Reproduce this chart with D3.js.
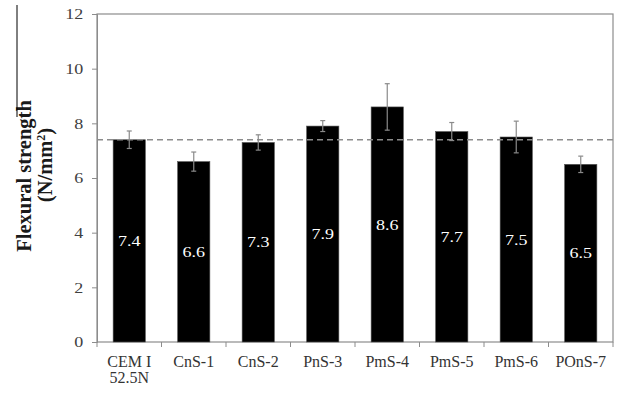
<!DOCTYPE html>
<html>
<head>
<meta charset="utf-8">
<script src="https://cdn.jsdelivr.net/npm/d3@7"></script>
<style>
  body { margin: 0; background: #fff; }
  svg { display: block; font-family: "Liberation Serif", "Times New Roman", serif; }
</style>
</head>
<body>
<svg id="chart"></svg>
<script>
const categories = ["CEM I|52.5N", "CnS-1", "CnS-2", "PnS-3", "PmS-4", "PmS-5", "PmS-6", "POnS-7"];
const values = [7.4, 6.6, 7.3, 7.9, 8.6, 7.7, 7.5, 6.5];
const errors = [0.32, 0.35, 0.28, 0.2, 0.85, 0.33, 0.58, 0.3];
const yTicks = [0, 2, 4, 6, 8, 10, 12];
const referenceValue = 7.4;

const width = 622;
const height = 395;
const plotLeft = 97, plotRight = 613, plotTop = 14, plotBottom = 342;
const stretch = 1.2; // source figure is widened a bit

const svg = d3.select("#chart").attr("width", width).attr("height", height);

const xScale = d3.scaleBand()
    .domain(categories)
    .range([plotLeft, plotRight])
    .paddingInner(0.5)
    .paddingOuter(0.25);

const yScale = d3.scaleLinear()
    .domain([0, 12])
    .range([plotBottom, plotTop]);

const cx = (i) => xScale(categories[i]) + xScale.bandwidth() / 2;

// frame
svg.append("rect")
    .attr("x", plotLeft).attr("y", plotTop)
    .attr("width", plotRight - plotLeft).attr("height", plotBottom - plotTop)
    .attr("fill", "none").attr("stroke", "#8c8c8c").attr("stroke-width", 1.2);

// y axis
const yAxis = d3.axisLeft(yScale).tickValues(yTicks).tickSize(5).tickPadding(6.5);
const gy = svg.append("g").attr("transform", "translate(" + plotLeft + ",0)").call(yAxis);
gy.select(".domain").attr("stroke", "#8c8c8c");
gy.selectAll(".tick line").attr("stroke", "#8c8c8c");
gy.selectAll(".tick text")
    .attr("font-size", 15)
    .attr("font-family", "Liberation Serif, serif")
    .attr("fill", "#404040")
    .attr("transform", "scale(" + stretch + ",1)");

// x axis ticks between categories
const xTickPos = d3.range(categories.length + 1).map(i => plotLeft + i * (plotRight - plotLeft) / categories.length);
svg.selectAll(".xtick")
    .data(xTickPos)
    .enter()
    .append("line")
    .attr("x1", d => d).attr("x2", d => d)
    .attr("y1", plotBottom).attr("y2", plotBottom + 5)
    .attr("stroke", "#8c8c8c");

// category labels
const labels = svg.selectAll(".cat")
    .data(categories)
    .enter()
    .append("text")
    .attr("transform", (d, i) => "translate(" + cx(i) + ",367)")
    .attr("text-anchor", "middle")
    .attr("font-size", 16)
    .attr("fill", "#333");
labels.each(function (d) {
    const t = d3.select(this);
    d.split("|").forEach((p, i) => {
        t.append("tspan")
            .attr("x", 0)
            .attr("dy", i === 0 ? 0 : 16)
            .text(p);
    });
});

// bars
svg.selectAll(".bar")
    .data(values)
    .enter()
    .append("rect")
    .attr("x", (d, i) => xScale(categories[i]))
    .attr("y", d => yScale(d))
    .attr("width", xScale.bandwidth())
    .attr("height", d => yScale(0) - yScale(d))
    .attr("fill", "#000")
    .attr("stroke", "#555")
    .attr("stroke-width", 0.6);

// reference dashed line
svg.append("line")
    .attr("x1", plotLeft).attr("x2", plotRight)
    .attr("y1", yScale(referenceValue)).attr("y2", yScale(referenceValue))
    .attr("stroke", "#8c8c8c")
    .attr("stroke-width", 1.6)
    .attr("stroke-dasharray", "6,4");

// error bars
const eb = svg.selectAll(".err")
    .data(values)
    .enter()
    .append("g")
    .attr("stroke", "#8a8a8a")
    .attr("stroke-width", 1.2);
eb.append("line")
    .attr("x1", (d, i) => cx(i))
    .attr("x2", (d, i) => cx(i))
    .attr("y1", (d, i) => yScale(d + errors[i]))
    .attr("y2", (d, i) => yScale(d - errors[i]));
[1, -1].forEach(s => {
    eb.append("line")
        .attr("x1", (d, i) => cx(i) - 2.5)
        .attr("x2", (d, i) => cx(i) + 2.5)
        .attr("y1", (d, i) => yScale(d + s * errors[i]))
        .attr("y2", (d, i) => yScale(d + s * errors[i]));
});

// value labels inside bars
svg.selectAll(".val")
    .data(values)
    .enter()
    .append("text")
    .attr("transform", (d, i) => "translate(" + cx(i) + "," + yScale(d / 2) + ") scale(" + stretch + ",1)")
    .attr("dy", "0.35em")
    .attr("text-anchor", "middle")
    .attr("font-size", 15)
    .attr("fill", "#fff")
    .text(d => d.toFixed(1));

// y axis title
const title = svg.append("text")
    .attr("transform", "translate(31,176) rotate(-90)")
    .attr("text-anchor", "middle")
    .attr("font-size", 20.5)
    .attr("font-weight", "bold")
    .attr("fill", "#1a1a1a");
title.append("tspan").attr("x", 0).attr("y", 0).text("Flexural strength");
const t2 = title.append("tspan").attr("x", 11).attr("y", 21).text("(N/mm");
t2.append("tspan").attr("dy", -7).attr("font-size", 12).text("2");
t2.append("tspan").attr("dy", 7).text(")");

// stray vertical rule at top left
svg.append("line")
    .attr("x1", 17).attr("x2", 17)
    .attr("y1", 5).attr("y2", 117)
    .attr("stroke", "#000").attr("stroke-width", 1);
</script>
</body>
</html>
